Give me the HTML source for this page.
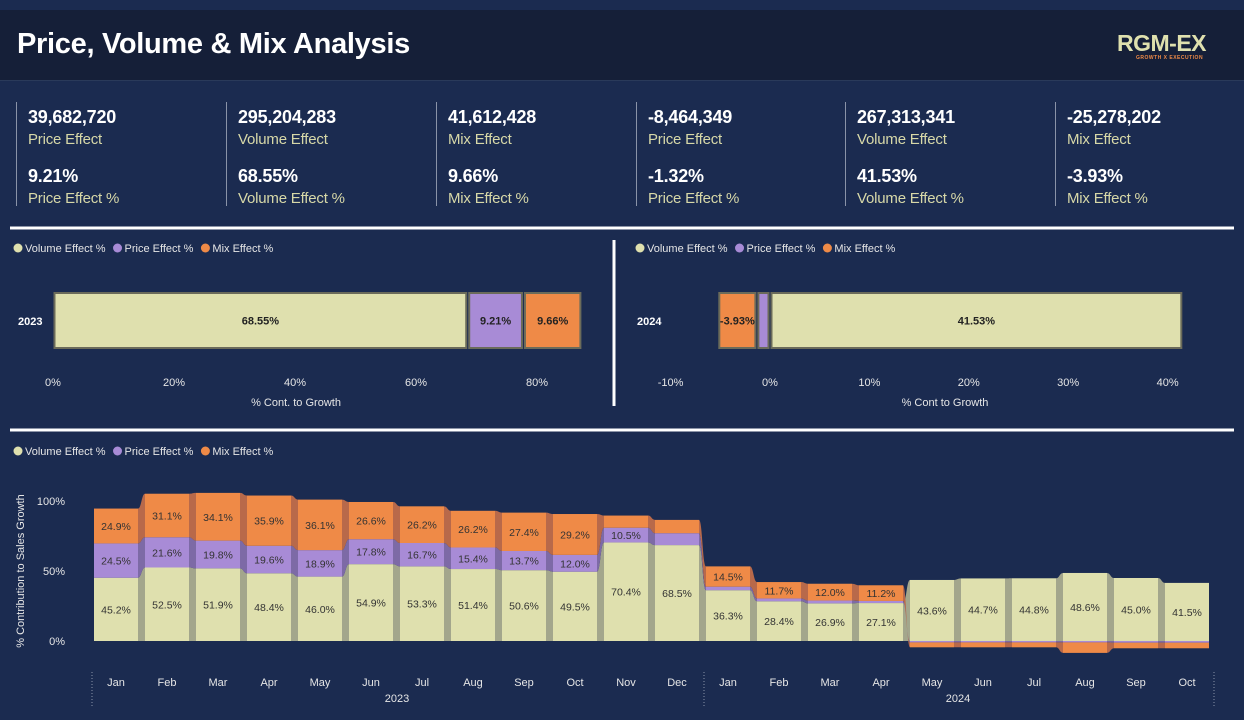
<!DOCTYPE html>
<html><head><meta charset="utf-8"><style>
body{margin:0;width:1244px;height:720px;background:#1b2b50;font-family:"Liberation Sans",sans-serif;overflow:hidden;position:relative;color:#fff}
#hdr{position:absolute;left:0;top:10px;width:1244px;height:70px;background:#151f38;border-bottom:1px solid #2a3a5a}
#title{position:absolute;left:17px;top:28px;font-size:29px;font-weight:bold;color:#fff;letter-spacing:-0.3px}
#logo{position:absolute;left:1117px;top:30px;font-size:23px;font-weight:bold;color:#dfe0ae;letter-spacing:-0.5px}
#logosub{position:absolute;left:1136px;top:55px;font-size:5px;color:#ef8a47;font-weight:bold;letter-spacing:0.5px}
.kpi{position:absolute;top:102px;height:104px;border-left:1px solid #8a93a8;padding-left:11px}
.kv{font-size:18px;font-weight:bold;color:#fff;margin-top:5px;height:24px;letter-spacing:-0.2px}
.kl{font-size:15px;color:#d7d8a8;height:30px;letter-spacing:-0.2px}
svg{position:absolute;left:0;top:0}
</style></head><body>
<div id="hdr"></div>
<div id="title">Price, Volume &amp; Mix Analysis</div>
<div id="logo">RGM-EX</div>
<div id="logosub">GROWTH X EXECUTION</div>

<div class="kpi" style="left:16px"><div class="kv">39,682,720</div><div class="kl">Price Effect</div><div class="kv">9.21%</div><div class="kl">Price Effect %</div></div>
<div class="kpi" style="left:226px"><div class="kv">295,204,283</div><div class="kl">Volume Effect</div><div class="kv">68.55%</div><div class="kl">Volume Effect %</div></div>
<div class="kpi" style="left:436px"><div class="kv">41,612,428</div><div class="kl">Mix Effect</div><div class="kv">9.66%</div><div class="kl">Mix Effect %</div></div>
<div class="kpi" style="left:636px"><div class="kv">-8,464,349</div><div class="kl">Price Effect</div><div class="kv">-1.32%</div><div class="kl">Price Effect %</div></div>
<div class="kpi" style="left:845px"><div class="kv">267,313,341</div><div class="kl">Volume Effect</div><div class="kv">41.53%</div><div class="kl">Volume Effect %</div></div>
<div class="kpi" style="left:1055px"><div class="kv">-25,278,202</div><div class="kl">Mix Effect</div><div class="kv">-3.93%</div><div class="kl">Mix Effect %</div></div>

<svg id="chart" width="1244" height="720"></svg>
<script>
// ---- data ----
const months = ["Jan","Feb","Mar","Apr","May","Jun","Jul","Aug","Sep","Oct","Nov","Dec","Jan","Feb","Mar","Apr","May","Jun","Jul","Aug","Sep","Oct"];
const volumeVals = [45.2,52.5,51.9,48.4,46.0,54.9,53.3,51.4,50.6,49.5,70.4,68.5,36.3,28.4,26.9,27.1,43.6,44.7,44.8,48.6,45.0,41.5];
const priceVals  = [24.5,21.6,19.8,19.6,18.9,17.8,16.7,15.4,13.7,12.0,10.5,8.5,2.5,2.0,2.0,1.5,-1.0,-1.0,-1.0,-1.0,-1.2,-1.2];
const mixVals    = [24.9,31.1,34.1,35.9,36.1,26.6,26.2,26.2,27.4,29.2,8.7,9.5,14.5,11.7,12.0,11.2,-3.5,-3.5,-3.5,-7.5,-4.0,-4.0];
const yTicks = [0,50,100];
const left2023 = {year:"2023", vol:68.55, price:9.21, mix:9.66};
const right2024 = {year:"2024", vol:41.53, price:-1.32, mix:-3.93};
const leftTicks = [0,20,40,60,80];
const rightTicks = [-10,0,10,20,30,40];

const NS="http://www.w3.org/2000/svg", svg=document.getElementById('chart');
const C={vol:"#dfe0ae",price:"#a88bd6",mix:"#ef8a47"};
const RC={vol:"#a3a68c",price:"#7d6aa6",mix:"#b8694a"};
function mk(tag,attrs,txt){const e=document.createElementNS(NS,tag);for(const k in attrs)e.setAttribute(k,attrs[k]);if(txt!==undefined)e.textContent=txt;svg.appendChild(e);return e;}

let e=mk('line',{x1:10,y1:228,x2:1234,y2:228,stroke:"#fff","stroke-width":3});


e=mk('line',{x1:10,y1:430,x2:1234,y2:430,stroke:"#fff","stroke-width":3});


e=mk('line',{x1:614,y1:240,x2:614,y2:406,stroke:"#fff","stroke-width":3});



function legend(x,y,nm){
  const items=[["Volume Effect %",C.vol],["Price Effect %",C.price],["Mix Effect %",C.mix]];
  let cx=x;
  items.forEach(it=>{
    let c=mk('circle',{cx:cx+4,cy:y-4,r:4.5,fill:it[1]});
    
    
    let t=mk('text',{x:cx+11,y:y,fill:"#e6e6e6","font-size":11},it[0]);
    
    
    cx+=11+t.getComputedTextLength()+8;
  });
}
legend(14,252,'legend-left');legend(636,252,'legend-right');legend(14,455,'legend-bottom');

function hbar(d,x0,scale,ticks,labelX,titleX,title,nm){
  const X=v=>x0+v*scale, y=293,h=55;
  let t=mk('text',{x:labelX,y:325,fill:"#fff","font-size":11,"font-weight":"bold"},d.year);
  
  
  let pos=0,neg=0;
  [["vol",d.vol],["price",d.price],["mix",d.mix]].forEach(s=>{
    let a,b;
    if(s[1]>=0){a=pos;b=pos+s[1];pos=b;}else{a=neg;b=neg+s[1];neg=b;}
    const xa=Math.min(X(a),X(b)),w=Math.abs(X(b)-X(a));
    let r=mk('rect',{x:xa+1.5,y:y,width:Math.max(w-3,1),height:h,fill:C[s[0]],stroke:"#6b6b5a","stroke-width":2});
    
    
    if(w>25){let l=mk('text',{x:xa+w/2,y:y+h/2+4,"text-anchor":"middle","font-size":11,"font-weight":"bold",fill:"#222"},s[1].toFixed(2)+"%");
      
      }
  });
  ticks.forEach(v=>{let k=mk('text',{x:X(v),y:386,"text-anchor":"middle","font-size":11,fill:"#e6e6e6"},v+"%");
    
    });
  let tt=mk('text',{x:titleX,y:406,"text-anchor":"middle","font-size":11,fill:"#e6e6e6"},title);
  
  
}
hbar(left2023,53,6.05,leftTicks,18,296,"% Cont. to Growth",'chart-2023');
hbar(right2024,770,9.94,rightTicks,637,945,"% Cont to Growth",'chart-2024');

const y0=641, ys=1.4, bx0=116, step=51, bw=44;
const Y=v=>y0-v*ys, BX=i=>bx0+i*step;
yTicks.forEach(v=>{let k=mk('text',{x:65,y:Y(v)+4,"text-anchor":"end","font-size":11,fill:"#e6e6e6"},v+"%");
  
  });
let yt=mk('text',{x:24,y:571,"text-anchor":"middle","font-size":11,fill:"#e6e6e6",transform:"rotate(-90 24 571)"},"% Contribution to Sales Growth");



function segs(i){
  const out={};let pos=0,neg=0;
  [["vol",volumeVals[i]],["price",priceVals[i]],["mix",mixVals[i]]].forEach(s=>{
    if(s[1]>=0){out[s[0]]=[pos,pos+s[1]];pos+=s[1];}else{out[s[0]]=[neg,neg+s[1]];neg+=s[1];}
  });return out;
}
const all=months.map((m,i)=>segs(i));
for(let i=0;i<months.length-1;i++){
  const a=all[i],b=all[i+1],xa=BX(i)+bw/2,xb=BX(i+1)-bw/2;
  ["vol","price","mix"].forEach(k=>{
    const p=`M${xa},${Y(a[k][1])} C${(xa+xb)/2},${Y(a[k][1])} ${(xa+xb)/2},${Y(b[k][1])} ${xb},${Y(b[k][1])} L${xb},${Y(b[k][0])} C${(xa+xb)/2},${Y(b[k][0])} ${(xa+xb)/2},${Y(a[k][0])} ${xa},${Y(a[k][0])} Z`;
    let r=mk('path',{d:p,fill:RC[k]});
    
    
  });
}
months.forEach((m,i)=>{
  const s=all[i];
  ["vol","price","mix"].forEach(k=>{
    const top=Math.max(Y(s[k][0]),Y(s[k][1])),hi=Math.min(Y(s[k][0]),Y(s[k][1]));
    let r=mk('rect',{x:BX(i)-bw/2,y:hi,width:bw,height:Math.max(top-hi,0.5),fill:C[k]});
    
    
    const v=k==="vol"?volumeVals[i]:k==="price"?priceVals[i]:mixVals[i];
    if(Math.abs(v)>=10){let l=mk('text',{x:BX(i),y:(hi+top)/2+4,"text-anchor":"middle","font-size":10.5,fill:"#333"},v.toFixed(1)+"%");
      
      }
  });
  let t=mk('text',{x:BX(i),y:686,"text-anchor":"middle","font-size":11,fill:"#e6e6e6"},m);
  
  
});
[[92],[704],[1214]].forEach(p=>{let l=mk('line',{x1:p[0],y1:672,x2:p[0],y2:708,stroke:"#8a93a8","stroke-dasharray":"1,2"});
  
  });
let y1=mk('text',{x:397,y:702,"text-anchor":"middle","font-size":11,fill:"#e6e6e6"},"2023");


let y2=mk('text',{x:958,y:702,"text-anchor":"middle","font-size":11,fill:"#e6e6e6"},"2024");


</script>
</body></html>
